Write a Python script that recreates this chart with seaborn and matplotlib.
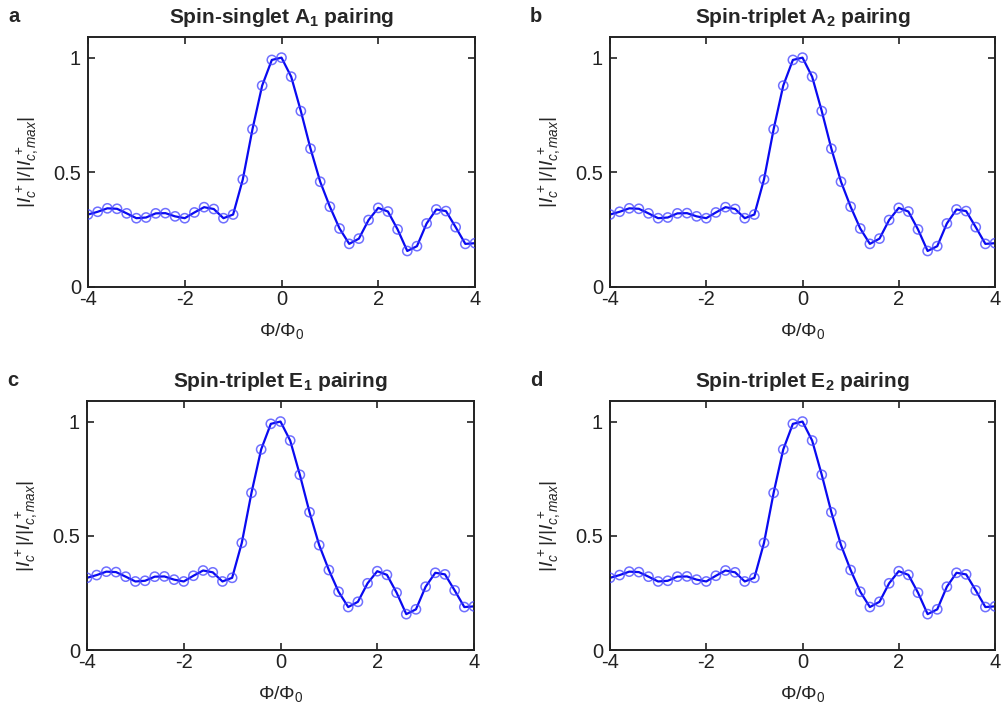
import numpy as np
import pandas as pd
import matplotlib
matplotlib.use("Agg")
import matplotlib.pyplot as plt
import seaborn as sns

sns.set_theme(style="ticks")
plt.rcParams["font.family"] = ["Liberation Sans", "DejaVu Sans"]
plt.rcParams["mathtext.fontset"] = "custom"
plt.rcParams["mathtext.rm"] = "Liberation Sans"
plt.rcParams["mathtext.it"] = "Liberation Sans:italic"
plt.rcParams["mathtext.bf"] = "Liberation Sans:bold"

# Normalised flux (Phi/Phi_0) sweep
flux = [-4.0, -3.8, -3.6, -3.4, -3.2, -3.0, -2.8, -2.6, -2.4, -2.2, -2.0,
        -1.8, -1.6, -1.4, -1.2, -1.0, -0.8, -0.6, -0.4, -0.2, 0.0,
        0.2, 0.4, 0.6, 0.8, 1.0, 1.2, 1.4, 1.6, 1.8, 2.0,
        2.2, 2.4, 2.6, 2.8, 3.0, 3.2, 3.4, 3.6, 3.8, 4.0]

# Normalised critical current |Ic+|/|Ic,max+|
ic_singlet_a1 = [0.316, 0.328, 0.343, 0.341, 0.321, 0.300, 0.303, 0.321, 0.322, 0.308, 0.300,
                 0.325, 0.348, 0.340, 0.300, 0.316, 0.469, 0.688, 0.878, 0.990, 1.000,
                 0.917, 0.767, 0.603, 0.459, 0.350, 0.255, 0.188, 0.211, 0.292, 0.345,
                 0.329, 0.251, 0.157, 0.178, 0.277, 0.338, 0.331, 0.261, 0.188, 0.191]
ic_triplet_a2 = list(ic_singlet_a1)
ic_triplet_e1 = list(ic_singlet_a1)
ic_triplet_e2 = list(ic_singlet_a1)

titles = [r"Spin-singlet A$_\mathbf{1}$ pairing",
          r"Spin-triplet A$_\mathbf{2}$ pairing",
          r"Spin-triplet E$_\mathbf{1}$ pairing",
          r"Spin-triplet E$_\mathbf{2}$ pairing"]
panel_tags = ["a", "b", "c", "d"]
series = [ic_singlet_a1, ic_triplet_a2, ic_triplet_e1, ic_triplet_e2]

x_ticks = [-4, -2, 0, 2, 4]
x_ticklabels = ["-4", "-2", "0", "2", "4"]
y_ticks = [0, 0.5, 1]
y_ticklabels = ["0", "0.5", "1"]

W, H = 1002, 710
fig = plt.figure(figsize=(W / 100, H / 100), dpi=100)

# axes boxes in pixels: left, right, top, bottom
boxes = [(88, 475, 37, 287), (610, 995, 37, 287),
         (87, 474, 401, 650), (610, 995, 401, 650)]

line_color = "#0a0af0"
for (l, r, t, b), vals, title, tag in zip(boxes, series, titles, panel_tags):
    ax = fig.add_axes([l / W, 1 - b / H, (r - l) / W, (b - t) / H])
    df = pd.DataFrame({"flux": flux, "ic": vals})
    sns.lineplot(data=df, x="flux", y="ic", ax=ax, color=line_color, lw=1.6)
    sns.scatterplot(data=df, x="flux", y="ic", ax=ax, marker="o", s=44,
                    facecolor="none", edgecolor=(0.25, 0.25, 1.0, 0.75),
                    linewidth=1.1, zorder=3)
    ax.set_xlim(-4, 4)
    ax.set_ylim(0, 1.09)
    ax.set_xticks(x_ticks)
    ax.set_xticklabels(x_ticklabels)
    ax.set_yticks(y_ticks)
    ax.set_yticklabels(y_ticklabels)
    ax.tick_params(direction="in", length=5, width=1.2, top=True, right=True,
                   labelsize=14.5, colors="#222222", pad=3)
    ax.tick_params(axis="y", pad=5)
    ax.tick_params(axis="x", pad=2)
    for sp in ax.spines.values():
        sp.set_visible(True)
        sp.set_linewidth(1.4)
        sp.set_color("#222222")
    ax.set_xlabel(r"$\mathrm{\Phi/\Phi_0}$", fontsize=14, labelpad=9)
    ax.set_ylabel(r"$|I_c^{\,+}|/|I^{\,+}_{c,max}|$", fontsize=14, labelpad=9)
    ax.set_title(title, fontsize=15, fontweight="bold", pad=10)
    fig.text((l - 80) / W, 1 - (t - 20) / H, tag, fontsize=14.5,
             fontweight="bold", ha="left", va="center")

fig.savefig("out.png", dpi=100)
